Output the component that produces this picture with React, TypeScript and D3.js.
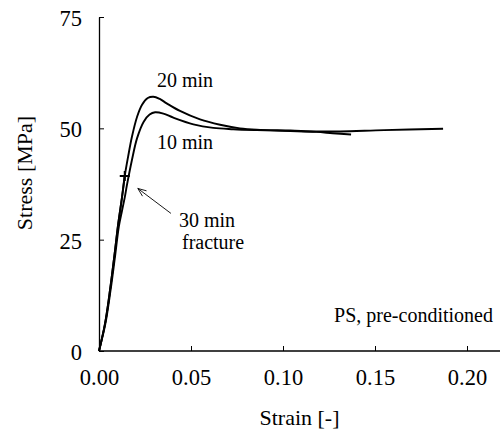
import * as d3 from 'd3';
import { useEffect, useRef } from 'react';

// strain [-], stress [MPa]
const strain20 = [0, 0.0033, 0.006, 0.0083, 0.0105, 0.0125, 0.014, 0.0158, 0.0179, 0.0207, 0.0234, 0.0265, 0.0295, 0.033, 0.0368, 0.044, 0.0549, 0.0658, 0.0766, 0.0857, 0.104, 0.118, 0.131, 0.155, 0.187];
const stress20 = [0, 6.2, 13.7, 21.2, 28.7, 34.5, 39.3, 43.6, 48.1, 52.6, 55.3, 56.8, 57.1, 56.6, 55.6, 53.9, 52.0, 50.8, 50.0, 49.7, 49.5, 49.3, 49.3, 49.6, 49.9];

const strain10 = [0, 0.0035, 0.0063, 0.0087, 0.0108, 0.0125, 0.014, 0.0152, 0.0179, 0.0207, 0.0243, 0.0275, 0.0305, 0.035, 0.0404, 0.0513, 0.0621, 0.073, 0.0857, 0.104, 0.118, 0.127, 0.137];
const stress10 = [0, 6.2, 13.7, 21.2, 28.0, 31.5, 34.5, 37.3, 42.9, 47.8, 51.5, 53.1, 53.6, 53.3, 52.4, 50.9, 50.1, 49.8, 49.6, 49.4, 49.2, 48.9, 48.6];

const strain30 = [0, 0.0033, 0.006, 0.0083, 0.0105, 0.0125, 0.014];
const stress30 = [0, 6.2, 13.7, 21.2, 28.7, 34.5, 39.3];

const xTicks = [0, 0.05, 0.1, 0.15, 0.2];
const yTicks = [0, 25, 50, 75];

const FONT = '"Liberation Serif", "Times New Roman", serif';

const App = () => {
  const ref = useRef<SVGSVGElement>(null);

  useEffect(() => {
    const svg = d3.select(ref.current);
    svg.selectAll('*').remove();

    const x = d3.scaleLinear().domain([0, 0.22]).range([99, 503.8]);
    const y = d3.scaleLinear().domain([0, 75]).range([351, 17]);

    const xAxis = d3
      .axisBottom(x)
      .tickValues(xTicks)
      .tickFormat(d3.format('.2f'))
      .tickSizeInner(-5)
      .tickSizeOuter(0)
      .tickPadding(18);
    const gx = svg.append('g').attr('transform', `translate(0, ${y(0)})`).call(xAxis);
    gx.select('.domain').attr('d', `M${x(0)},0H500`).attr('stroke', '#000').attr('stroke-width', 1.3);

    const yAxis = d3
      .axisLeft(y)
      .tickValues(yTicks)
      .tickFormat(d3.format('d'))
      .tickSizeInner(-5)
      .tickSizeOuter(0)
      .tickPadding(17);
    const gy = svg.append('g').attr('transform', `translate(${x(0)}, 0)`).call(yAxis);
    gy.select('.domain').attr('stroke', '#000').attr('stroke-width', 1.3);

    svg
      .selectAll('.tick text')
      .attr('font-family', FONT)
      .attr('font-size', 22.5)
      .attr('fill', '#000');
    svg.selectAll('.tick line').attr('stroke', '#000');
    gy.selectAll('.tick text').attr('dy', '0.38em');

    const line = d3
      .line<[number, number]>()
      .x((d) => x(d[0]))
      .y((d) => y(d[1]))
      .curve(d3.curveCatmullRom.alpha(0.5));

    const series = [
      { sx: strain20, sy: stress20 },
      { sx: strain10, sy: stress10 },
      { sx: strain30, sy: stress30 },
    ];
    series.forEach((s) => {
      svg
        .append('path')
        .attr('d', line(s.sx.map((v, i) => [v, s.sy[i]] as [number, number])))
        .attr('fill', 'none')
        .attr('stroke', '#000')
        .attr('stroke-width', 1.9);
    });

    // fracture marker for the 30 min curve
    const fx = x(strain30[strain30.length - 1]);
    const fy = y(stress30[stress30.length - 1]);
    svg
      .append('path')
      .attr('d', `M${fx - 5},${fy}H${fx + 5}M${fx},${fy - 5}V${fy + 5}`)
      .attr('stroke', '#000')
      .attr('stroke-width', 2);

    // arrow pointing at the fracture point
    const tip = [x(0.0211), y(36.5)];
    const tail = [x(0.0391), y(30.9)];
    const ang = Math.atan2(tail[1] - tip[1], tail[0] - tip[0]);
    const hl = 9;
    const spread = 0.38;
    svg
      .append('path')
      .attr(
        'd',
        `M${tail[0]},${tail[1]}L${tip[0]},${tip[1]}` +
          `M${tip[0] + hl * Math.cos(ang + spread)},${tip[1] + hl * Math.sin(ang + spread)}` +
          `L${tip[0]},${tip[1]}` +
          `L${tip[0] + hl * Math.cos(ang - spread)},${tip[1] + hl * Math.sin(ang - spread)}`
      )
      .attr('fill', 'none')
      .attr('stroke', '#000')
      .attr('stroke-width', 0.9);

    const labels = [
      { text: '20 min', sx: 0.0315, sy: 59.3, anchor: 'start' },
      { text: '10 min', sx: 0.0315, sy: 45.4, anchor: 'start' },
      { text: '30 min', sx: 0.0587, sy: 27.85, anchor: 'middle' },
      { text: 'fracture', sx: 0.062, sy: 23.0, anchor: 'middle' },
      { text: 'PS, pre-conditioned', sx: 0.2141, sy: 6.4, anchor: 'end' },
    ];
    labels.forEach((l) => {
      svg
        .append('text')
        .attr('x', x(l.sx))
        .attr('y', y(l.sy))
        .attr('text-anchor', l.anchor)
        .attr('font-family', FONT)
        .attr('font-size', 20)
        .text(l.text);
    });

    svg
      .append('text')
      .attr('x', (x(0) + 500) / 2)
      .attr('y', 425)
      .attr('text-anchor', 'middle')
      .attr('font-family', FONT)
      .attr('font-size', 22)
      .text('Strain [-]');

    svg
      .append('text')
      .attr('transform', `translate(32, ${(y(0) + y(75)) / 2 - 11}) rotate(-90)`)
      .attr('text-anchor', 'middle')
      .attr('font-family', FONT)
      .attr('font-size', 22)
      .text('Stress [MPa]');
  }, []);

  return (
    <svg
      ref={ref}
      width={500}
      height={429}
      style={{ position: 'absolute', left: 0, top: 0, background: '#fff' }}
    ></svg>
  );
};

export default App;
